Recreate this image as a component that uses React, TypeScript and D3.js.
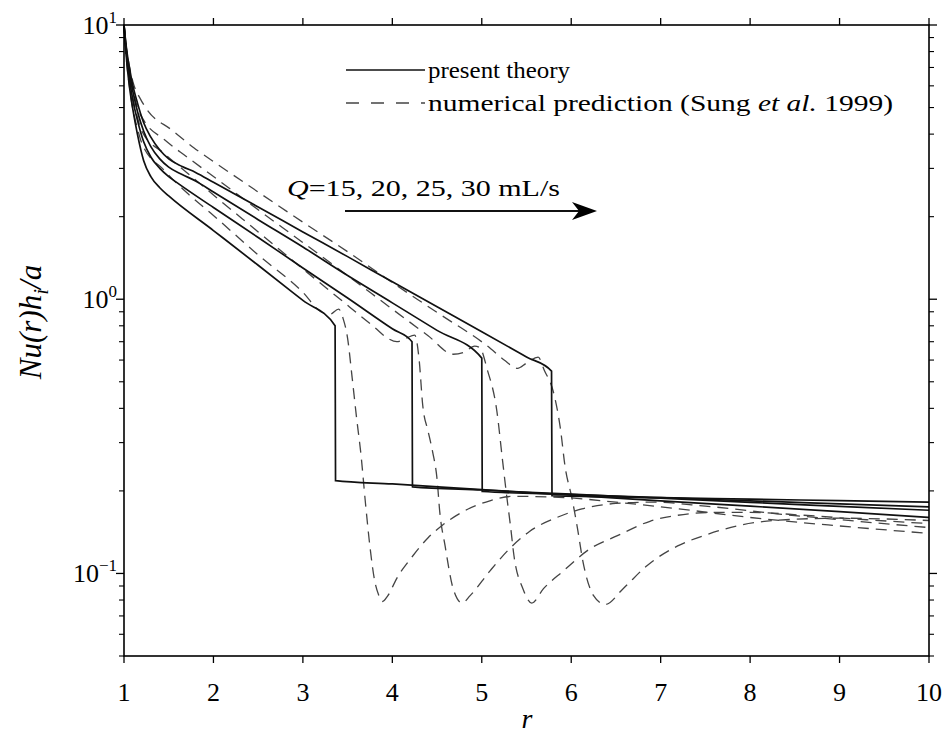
import React from 'react';
import * as d3 from 'd3';

type P = [number, number];

// present theory (r, Nu h_i / a) for Q = 15, 20, 25, 30 mL/s
const theory15: P[] = [[1,10],[1.03,7.4],[1.06,6.0],[1.1,4.9],[1.15,4.0],[1.22,3.2],[1.3,2.8],[1.4,2.55],[1.5,2.38],[2.0,1.78],[2.5,1.33],[3.0,0.99],[3.36,0.8],[3.365,0.218],[4,0.212],[5,0.202],[6,0.193],[7,0.184],[8,0.176],[9,0.168],[10,0.16]];
const theory20: P[] = [[1,10],[1.03,7.7],[1.06,6.4],[1.1,5.3],[1.15,4.5],[1.22,3.75],[1.3,3.3],[1.4,3.0],[1.5,2.8],[1.6,2.65],[2.0,2.16],[2.5,1.68],[3.0,1.3],[3.5,1.01],[4.0,0.78],[4.22,0.7],[4.225,0.207],[5,0.2015],[6,0.1946],[7,0.188],[8,0.1816],[9,0.1757],[10,0.17]];
const theory25: P[] = [[1,10],[1.03,7.9],[1.06,6.7],[1.1,5.7],[1.15,4.85],[1.22,4.1],[1.3,3.6],[1.4,3.25],[1.5,3.03],[1.65,2.85],[1.8,2.7],[2.0,2.46],[2.5,1.95],[3.0,1.55],[3.5,1.22],[4.0,0.97],[4.5,0.77],[5.0,0.61],[5.005,0.199],[6,0.194],[7,0.189],[8,0.184],[9,0.1795],[10,0.175]];
const theory30: P[] = [[1,10],[1.03,8.1],[1.06,7.0],[1.1,6.0],[1.15,5.2],[1.22,4.4],[1.3,3.9],[1.4,3.5],[1.5,3.25],[1.65,3.05],[1.8,2.9],[2.0,2.67],[2.5,2.17],[3.0,1.76],[3.5,1.43],[4.0,1.157],[4.5,0.938],[5.0,0.761],[5.5,0.616],[5.78,0.547],[5.785,0.192],[7,0.189],[8,0.1865],[9,0.1843],[10,0.182]];

// numerical prediction (Sung et al. 1999)
const numeric15: P[] = [[1,10],[1.03,7.3],[1.06,6.0],[1.1,4.9],[1.15,4.2],[1.2,3.7],[1.45,2.95],[1.7,2.45],[2.0,2.02],[2.5,1.45],[3.0,1.06],[3.2,0.9],[3.3,0.88],[3.4,0.92],[3.45,0.85],[3.5,0.72],[3.55,0.52],[3.6,0.37],[3.65,0.27],[3.7,0.18],[3.75,0.125],[3.8,0.095],[3.85,0.083],[3.89,0.079],[3.95,0.083],[4.05,0.096],[4.23,0.116],[4.4,0.135],[4.56,0.15],[4.79,0.168],[5.09,0.184],[5.35,0.191],[5.8,0.19],[6.5,0.182],[7.2,0.172],[8,0.16],[9,0.149],[10,0.14]];
const numeric20: P[] = [[1,10],[1.03,7.6],[1.06,6.4],[1.1,5.4],[1.15,4.6],[1.2,4.1],[1.45,3.4],[1.7,2.9],[2.0,2.4],[2.5,1.76],[3.0,1.29],[3.5,0.95],[3.8,0.79],[3.95,0.72],[4.05,0.7],[4.15,0.72],[4.25,0.74],[4.3,0.6],[4.34,0.41],[4.4,0.33],[4.45,0.278],[4.5,0.221],[4.53,0.168],[4.59,0.126],[4.68,0.088],[4.78,0.078],[4.87,0.083],[5.09,0.102],[5.31,0.123],[5.53,0.142],[5.86,0.161],[6.12,0.172],[6.5,0.18],[6.9,0.182],[7.5,0.176],[8.3,0.165],[9.2,0.155],[10,0.147]];
const numeric25: P[] = [[1,10],[1.03,7.9],[1.06,6.8],[1.1,5.8],[1.15,5.0],[1.22,4.5],[1.45,3.82],[1.7,3.31],[1.97,2.85],[2.5,2.12],[3.0,1.61],[3.5,1.22],[4.0,0.92],[4.4,0.736],[4.68,0.63],[4.8,0.64],[4.92,0.675],[4.98,0.665],[5.06,0.556],[5.17,0.388],[5.23,0.262],[5.28,0.19],[5.32,0.15],[5.36,0.116],[5.46,0.088],[5.56,0.078],[5.69,0.088],[5.91,0.102],[6.21,0.123],[6.51,0.137],[6.88,0.155],[7.19,0.163],[7.6,0.167],[8.0,0.167],[8.6,0.163],[9.3,0.157],[10,0.152]];
const numeric30: P[] = [[1,10],[1.03,8.1],[1.06,7.1],[1.1,6.2],[1.18,5.4],[1.26,4.9],[1.53,4.15],[1.78,3.57],[2.08,3.05],[2.5,2.46],[3.0,1.91],[3.5,1.49],[4.0,1.15],[4.5,0.895],[5.1,0.66],[5.25,0.6],[5.4,0.56],[5.5,0.585],[5.63,0.615],[5.7,0.55],[5.8,0.46],[5.88,0.336],[5.93,0.247],[6.01,0.187],[6.07,0.146],[6.13,0.111],[6.25,0.083],[6.38,0.077],[6.58,0.088],[6.85,0.107],[7.19,0.126],[7.5,0.138],[7.89,0.15],[8.4,0.157],[9.0,0.159],[10,0.156]];

const theorySeries = [theory15, theory20, theory25, theory30];
const numericSeries = [numeric15, numeric20, numeric25, numeric30];

const xTicks = [1, 2, 3, 4, 5, 6, 7, 8, 9, 10];
const yMajor = [0.1, 1, 10];
const yMajorExp = ['\u22121', '0', '1'];
const legendLabels = ['present theory', 'numerical prediction (Sung ', 'et al.', ' 1999)'];
const annotation = ['Q', '=15, 20, 25, 30 mL/s'];

const FONT = '"Liberation Serif", "DejaVu Serif", serif';

export default function App() {
  const L = 124, R = 929, T = 25, B = 656;
  const x = d3.scaleLinear().domain([1, 10]).range([L, R]);
  const y = d3.scaleLog().domain([0.05, 10]).range([B, T]);
  const line = d3.line<P>().x(d => x(d[0])).y(d => y(d[1])).curve(d3.curveMonotoneX);

  const minor: number[] = [];
  [0.01, 0.1, 1].forEach(dec => {
    for (let k = 2; k <= 9; k++) {
      const v = k * dec;
      if (v >= 0.05 && v <= 10) minor.push(v);
    }
  });

  return (
    <svg width={943} height={736} style={{ position: 'absolute', left: 0, top: 0, background: '#fff' }}
      fontFamily={FONT}>
      <rect x={0} y={0} width={943} height={736} fill="#fff" />
      {/* data */}
      {numericSeries.map((s, i) => (
        <path key={'n' + i} d={line(s) || ''} fill="none" stroke="#444" strokeWidth={1.3} strokeDasharray="11,7" />
      ))}
      {theorySeries.map((s, i) => (
        <path key={'t' + i} d={line(s) || ''} fill="none" stroke="#111" strokeWidth={1.7} />
      ))}

      {/* frame */}
      <rect x={L} y={T} width={R - L} height={B - T} fill="none" stroke="#000" strokeWidth={1.6} />
      {/* x ticks (bottom + top, outward) */}
      {xTicks.map(t => (
        <g key={'xt' + t}>
          <line x1={x(t)} x2={x(t)} y1={B} y2={B + 7} stroke="#000" strokeWidth={1.3} />
          <line x1={x(t)} x2={x(t)} y1={T} y2={T - 7} stroke="#000" strokeWidth={1.3} />
          <text x={x(t)} y={B + 45} textAnchor="middle" fontSize={26}>{t}</text>
        </g>
      ))}
      {/* y major ticks */}
      {yMajor.map((v, i) => (
        <g key={'ym' + v}>
          <line x1={L} x2={L - 8} y1={y(v)} y2={y(v)} stroke="#000" strokeWidth={1.3} />
          <line x1={R} x2={R + 8} y1={y(v)} y2={y(v)} stroke="#000" strokeWidth={1.3} />
          <text x={117} y={y(v) + 9} textAnchor="end" fontSize={26}>10<tspan dy={-11} fontSize={17}>{yMajorExp[i]}</tspan></text>
        </g>
      ))}
      {minor.map(v => (
        <g key={'yn' + v}>
          <line x1={L} x2={L - 5} y1={y(v)} y2={y(v)} stroke="#000" strokeWidth={1.1} />
          <line x1={R} x2={R + 5} y1={y(v)} y2={y(v)} stroke="#000" strokeWidth={1.1} />
        </g>
      ))}

      {/* axis labels */}
      <text x={527} y={728} textAnchor="middle" fontSize={28} fontStyle="italic">r</text>
      <text transform="translate(41,322) rotate(-90)" textAnchor="middle" fontSize={31} fontStyle="italic">
        Nu(r)h<tspan dy={7} fontSize={21}>i</tspan><tspan dy={-7}>/a</tspan>
      </text>

      {/* legend */}
      <line x1={346} x2={425} y1={70} y2={70} stroke="#111" strokeWidth={1.6} />
      <text x={428} y={78} fontSize={24} textLength={142} lengthAdjust="spacingAndGlyphs">{legendLabels[0]}</text>
      <line x1={346} x2={425} y1={103} y2={103} stroke="#444" strokeWidth={1.3} strokeDasharray="13,12" />
      <text x={428} y={111} fontSize={24} textLength={465} lengthAdjust="spacingAndGlyphs">
        {legendLabels[1]}<tspan fontStyle="italic">{legendLabels[2]}</tspan>{legendLabels[3]}
      </text>

      {/* annotation with arrow */}
      <text x={287} y={196} fontSize={24} textLength={273} lengthAdjust="spacingAndGlyphs">
        <tspan fontStyle="italic">{annotation[0]}</tspan>{annotation[1]}
      </text>
      <line x1={345} x2={582} y1={211} y2={211} stroke="#111" strokeWidth={2} />
      <polygon points="597,211 572,202 579,211 572,220" fill="#000" />
    </svg>
  );
}
